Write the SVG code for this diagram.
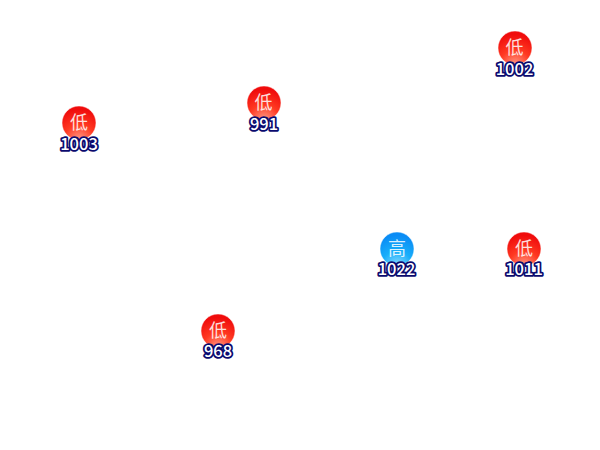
<svg xmlns="http://www.w3.org/2000/svg" width="600" height="450" viewBox="0 0 600 450">
<style>
.g{font:400 18px "Noto Sans CJK SC","Liberation Sans",sans-serif;text-anchor:middle;fill:#fff;fill-opacity:.85}
.n{font:500 16.500px "Noto Sans CJK SC","Liberation Sans",sans-serif;text-anchor:middle;fill:#fff;stroke:#0a0a6e;stroke-width:3.600;paint-order:stroke;stroke-linejoin:round}
.c{stroke:#fff;stroke-opacity:.5;stroke-width:1}
</style>
<defs>
<radialGradient id="red" cx=".5" cy="1" r=".9" fx=".5" fy="1"><stop offset="0" stop-color="#ff9c88"/><stop offset=".5" stop-color="#ff3a22"/><stop offset="1" stop-color="#f00c0c"/></radialGradient>
<radialGradient id="blue" cx=".5" cy="1" r=".9" fx=".5" fy="1"><stop offset="0" stop-color="#8fdcff"/><stop offset=".5" stop-color="#18aefa"/><stop offset="1" stop-color="#0a8cf5"/></radialGradient>
</defs>
<g id="connectors"/>
<g id="n1002"><circle class="c" cx="515" cy="48" r="17" fill="url(#red)"/><text class="g" x="514.500" y="54">低</text><text class="n" x="514.500" y="75">1002</text></g>
<g id="n991"><circle class="c" cx="264" cy="103" r="17" fill="url(#red)"/><text class="g" x="263.500" y="109">低</text><text class="n" x="264" y="130">991</text></g>
<g id="n1003"><circle class="c" cx="79" cy="123" r="17" fill="url(#red)"/><text class="g" x="79" y="129">低</text><text class="n" x="79" y="150">1003</text></g>
<g id="n1022"><circle class="c" cx="397" cy="249" r="17" fill="url(#blue)"/><text class="g" x="397" y="255">高</text><text class="n" x="396.500" y="275">1022</text></g>
<g id="n1011"><circle class="c" cx="524" cy="249" r="17" fill="url(#red)"/><text class="g" x="524" y="255">低</text><text class="n" x="524" y="275">1011</text></g>
<g id="n968"><circle class="c" cx="218" cy="331" r="17" fill="url(#red)"/><text class="g" x="218" y="337">低</text><text class="n" x="218" y="357">968</text></g>
</svg>
